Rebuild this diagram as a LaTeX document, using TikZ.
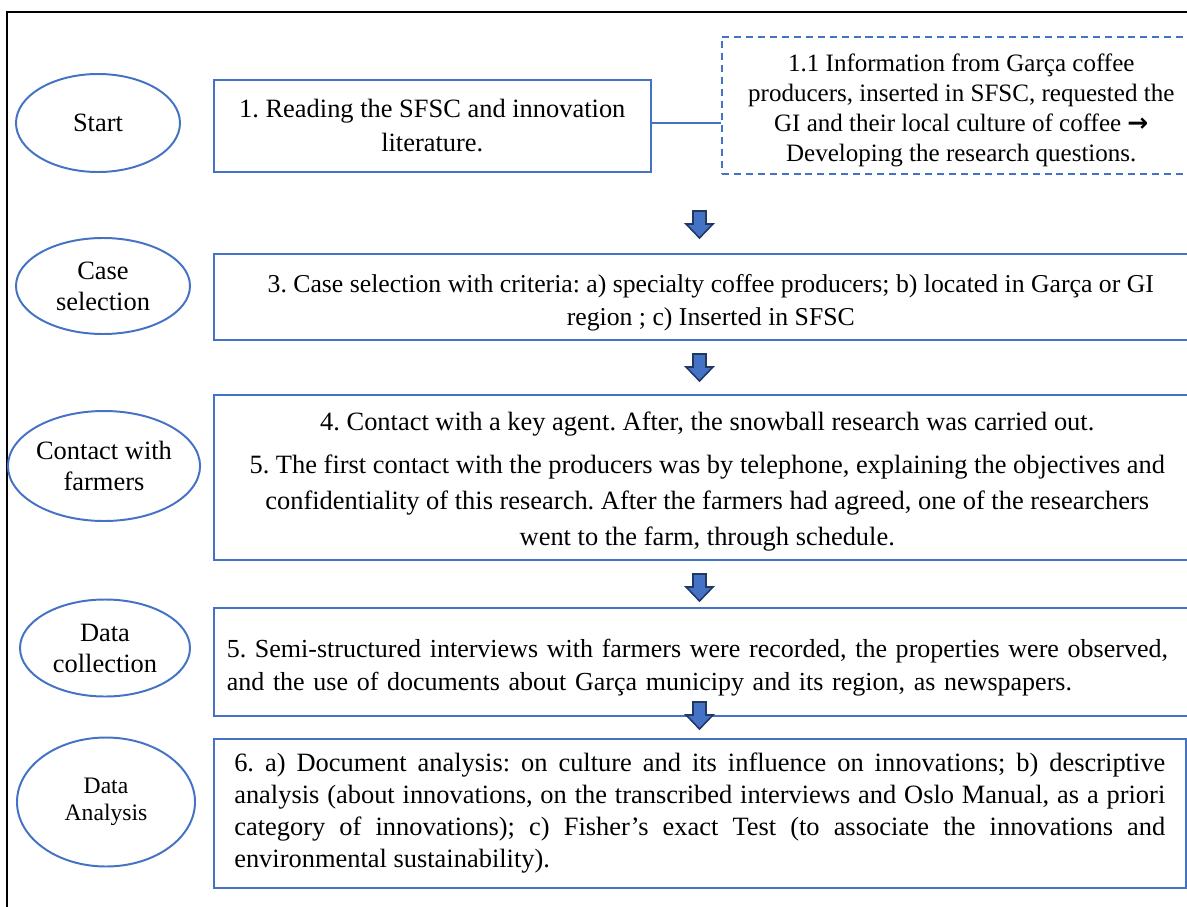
\documentclass[tikz,border=0pt]{standalone}
\usepackage{fontspec}
\setmainfont{Liberation Serif}
\newfontfamily\arrowfont{DejaVu Sans}
\usetikzlibrary{shapes.geometric}

\definecolor{officeblue}{HTML}{4472C4}
\definecolor{navyline}{HTML}{1F3864}

\begin{document}
\frenchspacing
\begin{tikzpicture}[
x=0.025cm, y=-0.025cm,
phase/.style={ellipse,draw=officeblue,line width=1.4pt,inner sep=0pt,align=center,font=\fontsize{18.8}{22}\selectfont},
task/.style={rectangle,draw=officeblue,line width=1.1pt,anchor=north west,inner sep=0pt,font=\fontsize{18.8}{24}\selectfont},
note/.style={task,dashed,dash pattern=on 5pt off 3.5pt},
link/.style={draw=officeblue,line width=0.8pt},
flow/.style={draw=navyline,fill=officeblue,line width=1.1pt,line join=miter},
frame/.style={draw=black,line width=0.8pt},
]
\def\px{0.025cm}

\useasboundingbox (0,0) rectangle (1187,906);
\clip (0,0) rectangle (1187,906);

% Outer frame
\draw[frame] (1220,12) -| (7,930);

% Phases on the left
\node[phase, minimum width=164*\px, minimum height=98*\px] (start) at (98,123) {Start};
\node[phase, minimum width=174*\px, minimum height=96*\px] (casesel) at (103,286) {Case\\selection};
\node[phase, minimum width=177*\px, minimum height=110*\px] (contact) at (104,466) {Contact with\\farmers};
\node[phase, minimum width=170*\px, minimum height=97*\px] (datacol) at (105,648) {Data\\collection};
\node[phase, minimum width=178*\px, minimum height=129*\px, font=\fontsize{16.8}{19.5}\selectfont] (dataana) at (106,802) {Data\\Analysis};

% Steps
\node[task, minimum width=437*\px, minimum height=92*\px, align=center] (reading) at (213,79)
  {1. Reading the SFSC and innovation\\literature.};
\node[note, minimum width=479*\px, minimum height=137*\px, align=center, font=\fontsize{17.8}{21.3}\selectfont] (info) at (721,36)
  {\rule{0pt}{0.68cm}1.1 Information from Garça coffee\\producers, inserted in SFSC, requested the\\GI and their local culture of coffee {\arrowfont\bfseries →}\\Developing the research questions.};
\node[task, minimum width=994*\px, minimum height=86*\px, align=center, font=\fontsize{18.3}{23.5}\selectfont] (selection) at (213,253)
  {\rule{0pt}{0.74cm}3. Case selection with criteria: a) specialty coffee producers; b) located in Garça or GI\\region ; c) Inserted in SFSC};
\node[task, minimum width=987*\px, minimum height=165*\px, align=center, font=\fontsize{18.8}{25.6}\selectfont] (contacting) at (213,394)
  {\rule{0pt}{0.66cm}4. Contact with a key agent. After, the snowball research was carried out.\\[5pt]
   5. The first contact with the producers was by telephone, explaining the objectives and\\
   confidentiality of this research. After the farmers had agreed, one of the researchers\\
   went to the farm, through schedule.};
\node[task, minimum width=987*\px, minimum height=108*\px, inner xsep=13*\px, text width=961*\px, align=left, font=\fontsize{18.5}{23.5}\selectfont] (collecting) at (213,607)
  {\rule{0pt}{0.76cm}5. Semi-structured interviews with farmers were recorded, the properties were observed,\\and the use of documents about Garça municipy and its region, as newspapers.};
\node[task, minimum width=972*\px, minimum height=149*\px, text width=931*\px, align=justify, font=\fontsize{18.8}{22.8}\selectfont] (analysing) at (213,738)
  {6. a) Document analysis: on culture and its influence on innovations; b) descriptive\linebreak
   analysis (about innovations, on the transcribed interviews and Oslo Manual, as a priori\linebreak
   category of innovations); c) Fisher's exact Test (to associate the innovations and\linebreak
   environmental sustainability).};

% Link to the note
\draw[link] (reading.east |- 0,123) -- (info.west |- 0,123);

% Block arrows between the steps
\foreach \ya in {211,354,574,702}{
  \draw[flow] (693,\ya) -- ++(13,0) -- ++(0,13) -- ++(7,0) -- ++(-13.5,14) -- ++(-13.5,-14) -- ++(7,0) -- cycle;
}
\end{tikzpicture}
\end{document}
